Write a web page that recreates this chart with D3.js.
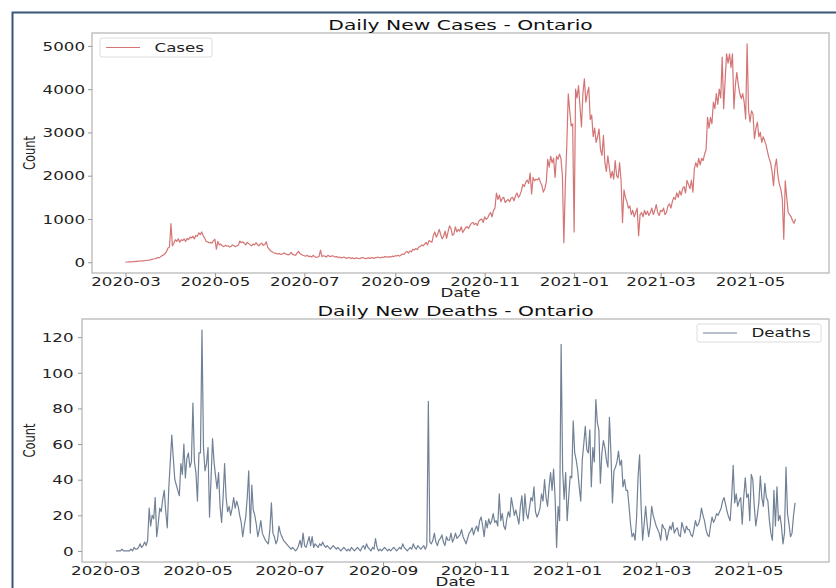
<!DOCTYPE html>
<html>
<head>
<meta charset="utf-8">
<script src="https://cdn.jsdelivr.net/npm/d3@7"></script>
<style>
  body { margin: 0; background: #fff; }
  svg { display: block; }
  text { font-family: "DejaVu Sans", sans-serif; }
</style>
</head>
<body>
<svg id="chart" width="836" height="588"></svg>
<script>
// Daily new cases in Ontario, one value per day starting 2020-03-01
const casesStart = "2020-03-01";
const casesValues = [
  3, 5, 6, 8, 10, 12, 15,
  18, 20, 25, 28, 30, 32, 35,
  40, 45, 50, 55, 65, 75, 80,
  90, 110, 100, 130, 150, 170, 200,
  250, 330, 350, 890, 380, 440, 520,
  480, 540, 460, 520, 500, 540, 480,
  550, 520, 580, 560, 600, 540, 620,
  600, 680, 640, 700, 610, 560, 480,
  470, 450, 460, 440, 500, 530, 300,
  480, 400, 420, 380, 360, 390, 370,
  380, 350, 370, 400, 380, 360, 380,
  400, 490, 450, 470, 440, 400, 460,
  430, 400, 380, 420, 400, 450, 410,
  380, 420, 440, 390, 410, 470, 350,
  300, 260, 240, 220, 210, 200, 190,
  200, 180, 190, 210, 200, 180, 170,
  190, 230, 180, 170, 160, 210, 250,
  200, 180, 160, 150, 140, 160, 130,
  140, 120, 160, 130, 110, 120, 130,
  280, 130, 150, 140, 120, 160, 140,
  130, 150, 140, 120, 130, 110, 120,
  100, 110, 120, 100, 90, 110, 100,
  90, 100, 80, 100, 95, 85, 90,
  100, 110, 90, 80, 95, 100, 90,
  110, 90, 100, 105, 120, 110, 100,
  120, 110, 130, 125, 115, 130, 120,
  140, 130, 150, 145, 160, 140, 170,
  190, 180, 230, 250, 210, 260, 240,
  300, 280, 320, 290, 350, 360, 400,
  380, 420, 460, 400, 500, 480, 460,
  620, 700, 580, 650, 760, 640, 540,
  600, 720, 550, 700, 840, 780, 620,
  650, 820, 700, 760, 720, 820, 690,
  740, 800, 820, 780, 850, 900, 920,
  870, 900, 850, 950, 980, 1000, 920,
  1050, 990, 1020, 1100, 1150, 1050, 1200,
  1250, 1600, 1450, 1550, 1400, 1480, 1500,
  1380, 1420, 1450, 1400, 1480, 1500, 1420,
  1530, 1600, 1500, 1550, 1650, 1800, 1750,
  1850, 1900, 1820, 2060, 1580, 1960, 1880,
  1920, 1900, 1950, 1850, 1780, 1620, 1700,
  1850, 2380, 2200, 2450, 2300, 2400, 1960,
  2450, 2380, 2500, 2400, 2000, 450, 1800,
  2700, 3890, 3500, 3150, 3200, 700, 4000,
  3800, 4080, 3600, 3130, 3900, 4240, 3700,
  3900, 4040, 3300, 3400, 2900, 3100, 2770,
  2900, 3080, 2600, 2470, 2930, 2300, 2100,
  2460, 2200, 1950, 2100, 1920, 2350, 2000,
  1950, 2300, 1900, 918, 1670, 1500, 1400,
  1250, 1300, 1100, 1200, 1050, 1150, 1250,
  610, 1100, 1150, 1050, 1200, 1100, 1180,
  1080, 1150, 1250, 1100, 1200, 1330, 1150,
  1080, 1200, 1170, 1250, 1100, 1150, 1300,
  1350, 1250, 1400, 1500, 1450, 1600, 1500,
  1650, 1550, 1700, 1750, 1600, 1890, 1800,
  1700, 1900, 1620, 2160, 2300, 2200, 2400,
  2250, 2400, 2350, 2500, 2600, 3350, 3100,
  3350, 3200, 3700, 3550, 3900, 3650, 4000,
  3800, 4740, 3550, 4200, 4815, 4600, 4815,
  4500, 4815, 3550, 4100, 4390, 4100, 3900,
  3780, 3900, 3700, 3310, 5046, 3500, 3240,
  3500, 3426, 2850, 3100, 3240, 2900, 3000,
  2770, 2900, 2800, 2700, 2540, 2400, 2300,
  2100, 1770, 2200, 2384, 2000, 1800, 1690,
  1460, 532, 1882, 1500, 1150, 1100, 1050,
  960, 900, 1000
];

// Daily new deaths in Ontario, one value per day starting 2020-03-08
const deathsStart = "2020-03-08";
const deathsValues = [
  0, 0, 0, 0, 1, 0, 0,
  0, 0, 0, 1, 0, 2, 1,
  1, 2, 4, 2, 3, 5, 3,
  6, 24, 14, 20, 18, 30, 8,
  15, 24, 22, 29, 34, 22, 13,
  35, 50, 65, 52, 40, 37, 34,
  31, 49, 43, 60, 41, 52, 55,
  47, 50, 83, 50, 44, 28, 55,
  55, 124, 58, 45, 49, 58, 19,
  40, 63, 50, 42, 35, 44, 25,
  16, 30, 49, 30, 22, 25, 20,
  24, 30, 24, 28, 25, 20, 16,
  8, 14, 19, 30, 45, 10, 37,
  23, 20, 15, 8, 12, 17, 10,
  8, 6, 5, 4, 12, 27, 10,
  8, 4, 6, 14, 10, 8, 6,
  5, 4, 3, 2, 1, 2, 1,
  0, 1, 3, 6, 2, 10, 3,
  2, 5, 8, 3, 8, 2, 4,
  3, 2, 4, 3, 5, 3, 2,
  3, 2, 1, 2, 3, 2, 1,
  2, 1, 0, 1, 2, 1, 0,
  1, 0, 2, 1, 0, 1, 2,
  1, 0, 2, 3, 1, 4, 2,
  1, 0, 2, 1, 7, 2, 0,
  1, 0, 1, 2, 1, 0, 1,
  0, 1, 2, 1, 0, 1, 2,
  1, 4, 2, 1, 0, 1, 2,
  1, 4, 2, 1, 3, 2, 1,
  2, 3, 1, 3, 84, 5, 4,
  6, 10, 5, 3, 6, 7, 9,
  5, 3, 8, 6, 6, 10, 5,
  7, 10, 7, 8, 9, 12, 8,
  6, 4, 7, 10, 11, 13, 9,
  12, 14, 11, 17, 19, 14, 8,
  17, 13, 18, 15, 17, 21, 16,
  17, 14, 32, 17, 21, 14, 12,
  18, 22, 19, 30, 25, 20, 23,
  19, 15, 25, 31, 17, 32, 21,
  18, 24, 30, 28, 36, 22, 19,
  21, 24, 32, 28, 40, 30, 25,
  36, 44, 34, 46, 30, 2, 25,
  17, 116, 45, 29, 44, 17, 30,
  42, 41, 73, 55, 51, 45, 36,
  28, 51, 60, 70, 57, 55, 68,
  36, 58, 50, 85, 72, 68, 38,
  55, 62, 58, 51, 47, 75, 55,
  27, 45, 47, 50, 56, 48, 51,
  36, 40, 34, 34, 25, 15, 8,
  10, 6, 19, 42, 54, 25, 6,
  15, 25, 15, 8, 14, 25, 20,
  17, 14, 12, 10, 6, 15, 13,
  12, 6, 10, 14, 12, 16, 10,
  12, 13, 9, 8, 16, 13, 10,
  14, 12, 12, 9, 8, 12, 17,
  14, 15, 18, 24, 20, 17, 12,
  9, 8, 14, 19, 16, 18, 21,
  20, 22, 24, 28, 30, 26, 22,
  19, 17, 30, 48, 27, 32, 25,
  28, 30, 15, 30, 41, 30, 32,
  17, 43, 40, 25, 14, 20, 27,
  42, 30, 25, 38, 30, 28, 17,
  10, 6, 34, 14, 36, 17, 20,
  14, 4, 10, 47, 21, 15, 8,
  10, 20, 27
];

// Axis ticks
const dateTicks = ["2020-03-01", "2020-05-01", "2020-07-01", "2020-09-01",
                   "2020-11-01", "2021-01-01", "2021-03-01", "2021-05-01"];
const casesTicks = [0, 1000, 2000, 3000, 4000, 5000];
const deathsTicks = [0, 20, 40, 60, 80, 100, 120];

// Glyphs are drawn widened horizontally
const SX = 1.45;
const parse = d3.utcParse("%Y-%m-%d");
const fmt = d3.utcFormat("%Y-%m");

const svg = d3.select("#chart");
svg.append("rect").attr("width", 836).attr("height", 588).attr("fill", "#fff");

// Outer frame
svg.append("path")
  .attr("d", "M12.5,588V12.5H836")
  .attr("fill", "none")
  .attr("stroke", "#37567a")
  .attr("stroke-width", 2);

function wideText(g, x, y, str, size, opts = {}) {
  const t = g.append("text")
    .attr("transform", `translate(${x},${y}) scale(${SX},1)` + (opts.rotate ? ` rotate(${opts.rotate})` : ""))
    .attr("font-size", size)
    .attr("fill", opts.fill || "#222")
    .attr("text-anchor", opts.anchor || "start")
    .text(str);
  return t;
}

function drawPanel(p) {
  const start = parse(p.start);
  const dates = p.values.map((v, i) => d3.utcDay.offset(start, i));
  const [d0, d1] = d3.extent(dates);
  const span = d1 - d0;
  const x = d3.scaleUtc()
    .domain([new Date(+d0 - 0.05 * span), new Date(+d1 + 0.05 * span)])
    .range([p.left, p.right]);
  const [v0, v1] = d3.extent(p.values);
  const vr = v1 - v0;
  const y = d3.scaleLinear()
    .domain([v0 - 0.05 * vr, v1 + 0.05 * vr])
    .range([p.bottom, p.top]);

  const g = svg.append("g");

  // Series line
  g.append("path")
    .datum(p.values)
    .attr("fill", "none")
    .attr("stroke", p.color)
    .attr("stroke-opacity", p.opacity)
    .attr("stroke-width", 1.2)
    .attr("stroke-linejoin", "round")
    .attr("d", d3.line().x((v, i) => x(dates[i])).y(v => y(v)));

  // Spines
  g.append("rect")
    .attr("x", p.left).attr("y", p.top)
    .attr("width", p.right - p.left).attr("height", p.bottom - p.top)
    .attr("fill", "none").attr("stroke", "#b8b8b8").attr("stroke-width", 1.3);

  // X axis
  const xa = g.append("g")
    .attr("transform", `translate(0,${p.bottom})`)
    .call(d3.axisBottom(x).tickValues(dateTicks.map(parse)).tickFormat(fmt).tickSize(4));
  xa.attr("font-family", null).attr("font-size", null);
  xa.select(".domain").remove();
  xa.selectAll(".tick line").attr("stroke", "#999");
  xa.selectAll(".tick text")
    .attr("y", null).attr("dy", null)
    .attr("transform", `translate(0,12.6) scale(${SX},1)`)
    .attr("font-size", 11.5).attr("fill", "#222");

  // Y axis
  const ya = g.append("g")
    .attr("transform", `translate(${p.left},0)`)
    .call(d3.axisLeft(y).tickValues(p.yTicks).tickFormat(d3.format("d")).tickSize(4));
  ya.attr("font-family", null).attr("font-size", null);
  ya.select(".domain").remove();
  ya.selectAll(".tick line").attr("stroke", "#999");
  ya.selectAll(".tick text")
    .attr("x", null).attr("dy", null)
    .attr("transform", `translate(${-p.ylabPad},4.2) scale(${SX},1)`)
    .attr("font-size", 11.5).attr("fill", "#222");

  // Title and axis labels
  const cx = (p.left + p.right) / 2;
  wideText(g, cx, p.top - 3, p.title, 14, { anchor: "middle", fill: "#111" });
  wideText(g, cx, p.bottom + 24, "Date", 11.5, { anchor: "middle" });
  wideText(g, 35, (p.top + p.bottom) / 2, "Count", 11.5, { anchor: "middle", rotate: -90 });

  // Legend
  const lg = g.append("g").attr("transform", `translate(${p.legend.x},${p.legend.y})`);
  lg.append("rect")
    .attr("width", p.legend.w).attr("height", p.legend.h)
    .attr("rx", 2)
    .attr("fill", "#fff").attr("fill-opacity", 0.85)
    .attr("stroke", "#dcdcdc").attr("stroke-width", 1);
  lg.append("line")
    .attr("x1", 6).attr("x2", 40)
    .attr("y1", p.legend.h / 2).attr("y2", p.legend.h / 2)
    .attr("stroke", p.color).attr("stroke-opacity", p.opacity).attr("stroke-width", 1.2);
  wideText(lg, 54.5, p.legend.h / 2 + 4.3, p.label, 11.5);
}

drawPanel({
  values: casesValues, start: casesStart,
  left: 92, right: 829, top: 33, bottom: 273,
  yTicks: casesTicks, ylabPad: 7,
  color: "#cd5c5c", opacity: 0.85,
  title: "Daily New Cases - Ontario",
  label: "Cases",
  legend: { x: 100, y: 38, w: 112, h: 19 }
});

drawPanel({
  values: deathsValues, start: deathsStart,
  left: 82, right: 829, top: 319, bottom: 562,
  yTicks: deathsTicks, ylabPad: 8.5,
  color: "#718196", opacity: 1,
  title: "Daily New Deaths - Ontario",
  label: "Deaths",
  legend: { x: 697, y: 324, w: 124, h: 18 }
});
</script>
</body>
</html>
